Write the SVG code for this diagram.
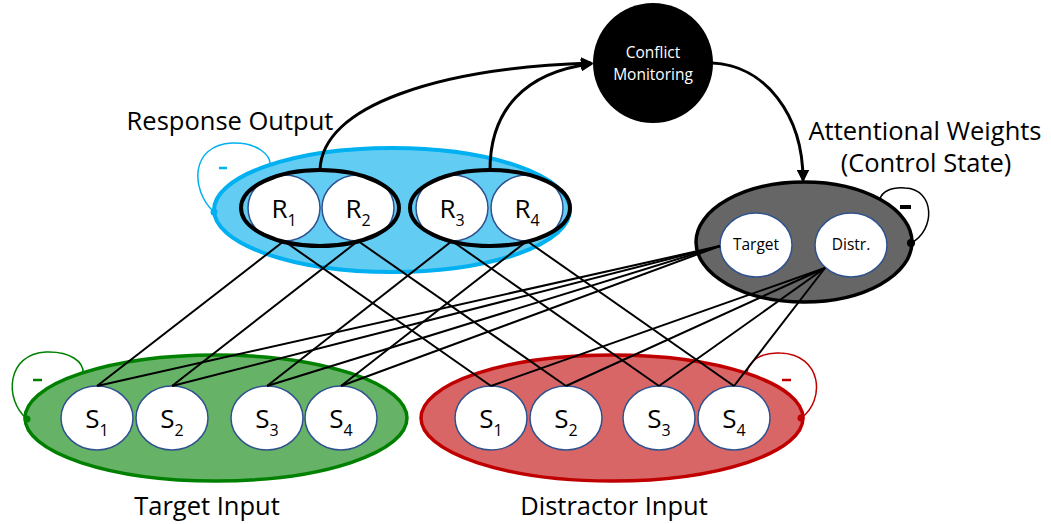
<svg xmlns="http://www.w3.org/2000/svg" width="1051" height="524" viewBox="0 0 1051 524">
  <style>
    .title { font-family: "Open Sans", "Liberation Sans", sans-serif; font-size: 25.5px; fill: #000; text-anchor: middle; }
    .unit { fill: #fff; stroke: #2F528F; stroke-width: 1.5; }
    .lbl { font-family: "Open Sans", "Liberation Sans", sans-serif; font-size: 26px; fill: #000; text-anchor: middle; }
    .sub { font-size: 16px; }
    .small { font-family: "Open Sans", "Liberation Sans", sans-serif; font-size: 15.5px; text-anchor: middle; }
    .wire { stroke: #000; stroke-width: 2; fill: none; }
    .arrow { stroke: #000; stroke-width: 3; fill: none; marker-end: url(#head); }
  </style>
  <defs>
    <marker id="head" viewBox="0 0 10 10" refX="8" refY="5" markerWidth="4.2" markerHeight="4.2" orient="auto" markerUnits="strokeWidth">
      <path d="M0,0 L10,5 L0,10 Z" fill="#000"/>
    </marker>
  </defs>

  <rect width="1051" height="524" fill="#fff"/>

  <!-- Response output layer -->
  <g id="response-output">
    <ellipse cx="392" cy="210" rx="178" ry="62" fill="#63CCF3" stroke="#00B0F0" stroke-width="4"/>
    <path d="M214,212 C190,190 190,145 232,143 C258,142 271,156 270,165" fill="none" stroke="#00B0F0" stroke-width="1.5"/>
    <circle cx="214" cy="212" r="3.5" fill="#00B0F0"/>
    <line x1="219" y1="168" x2="227" y2="168" stroke="#00B0F0" stroke-width="2.5"/>
    <text class="title" x="230" y="130">Response Output</text>
    <g id="r1">
      <ellipse class="unit" cx="284" cy="208" rx="36" ry="33"/>
      <text class="lbl" x="284" y="218">R<tspan class="sub" dy="8">1</tspan></text>
    </g>
    <g id="r2">
      <ellipse class="unit" cx="358" cy="208" rx="36" ry="33"/>
      <text class="lbl" x="358" y="218">R<tspan class="sub" dy="8">2</tspan></text>
    </g>
    <g id="r3">
      <ellipse class="unit" cx="452" cy="208" rx="36" ry="33"/>
      <text class="lbl" x="452" y="218">R<tspan class="sub" dy="8">3</tspan></text>
    </g>
    <g id="r4">
      <ellipse class="unit" cx="527" cy="208" rx="36" ry="33"/>
      <text class="lbl" x="527" y="218">R<tspan class="sub" dy="8">4</tspan></text>
    </g>
    <ellipse cx="320" cy="208" rx="79" ry="38" fill="none" stroke="#000" stroke-width="4"/>
    <ellipse cx="490" cy="208" rx="80" ry="38" fill="none" stroke="#000" stroke-width="4"/>
  </g>

  <!-- Conflict monitoring unit -->
  <g id="conflict-monitoring">
    <circle cx="653" cy="63" r="60" fill="#000"/>
    <text class="small" x="653" y="58" fill="#fff" font-size="16px">Conflict</text>
    <text class="small" x="653" y="80" fill="#fff" font-size="16px">Monitoring</text>
  </g>

  <!-- Attentional weights (control state) -->
  <g id="attentional-weights">
    <text class="title" x="925" y="140">Attentional Weights</text>
    <text class="title" x="926" y="172">(Control State)</text>
    <ellipse cx="804" cy="242" rx="108" ry="60" fill="#666666" stroke="#000" stroke-width="3.5"/>
    <path d="M911,243 C936,230 935,189 905,188 C890,187 882,192 880,199" fill="none" stroke="#000" stroke-width="1.5"/>
    <circle cx="911" cy="243" r="4" fill="#000"/>
    <line x1="900" y1="207" x2="911" y2="207" stroke="#000" stroke-width="4"/>
    <g id="w-target">
      <ellipse class="unit" cx="756" cy="245" rx="36" ry="32"/>
      <text class="small" x="756" y="250">Target</text>
    </g>
    <g id="w-distr">
      <ellipse class="unit" cx="851" cy="245" rx="36" ry="32"/>
      <text class="small" x="851" y="250">Distr.</text>
    </g>
  </g>

  <!-- Target input layer -->
  <g id="target-input">
    <ellipse cx="216" cy="418" rx="191" ry="63" fill="#66B266" stroke="#008000" stroke-width="3.5"/>
    <path d="M27,419 C4,400 6,354 46,352 C70,351 84,362 83,373" fill="none" stroke="#008000" stroke-width="1.5"/>
    <circle cx="27" cy="419" r="3.5" fill="#008000"/>
    <line x1="33" y1="380" x2="42" y2="380" stroke="#008000" stroke-width="2.5"/>
    <text class="title" x="207" y="515">Target Input</text>
    <g id="t-s1">
      <ellipse class="unit" cx="97" cy="418" rx="36" ry="32"/>
      <text class="lbl" x="97" y="428">S<tspan class="sub" dy="8">1</tspan></text>
    </g>
    <g id="t-s2">
      <ellipse class="unit" cx="172" cy="418" rx="36" ry="32"/>
      <text class="lbl" x="172" y="428">S<tspan class="sub" dy="8">2</tspan></text>
    </g>
    <g id="t-s3">
      <ellipse class="unit" cx="267" cy="418" rx="36" ry="32"/>
      <text class="lbl" x="267" y="428">S<tspan class="sub" dy="8">3</tspan></text>
    </g>
    <g id="t-s4">
      <ellipse class="unit" cx="341" cy="418" rx="36" ry="32"/>
      <text class="lbl" x="341" y="428">S<tspan class="sub" dy="8">4</tspan></text>
    </g>
  </g>

  <!-- Distractor input layer -->
  <g id="distractor-input">
    <ellipse cx="612" cy="418" rx="191" ry="63" fill="#D96666" stroke="#C00000" stroke-width="3.5"/>
    <path d="M801,418 C826,400 822,354 780,353 C760,352 748,362 747,373" fill="none" stroke="#C00000" stroke-width="1.5"/>
    <circle cx="801" cy="418" r="3.5" fill="#C00000"/>
    <line x1="782" y1="380" x2="791" y2="380" stroke="#C00000" stroke-width="2.5"/>
    <text class="title" x="614" y="515">Distractor Input</text>
    <g id="d-s1">
      <ellipse class="unit" cx="491" cy="418" rx="36" ry="32"/>
      <text class="lbl" x="491" y="428">S<tspan class="sub" dy="8">1</tspan></text>
    </g>
    <g id="d-s2">
      <ellipse class="unit" cx="566" cy="418" rx="36" ry="32"/>
      <text class="lbl" x="566" y="428">S<tspan class="sub" dy="8">2</tspan></text>
    </g>
    <g id="d-s3">
      <ellipse class="unit" cx="659" cy="418" rx="36" ry="32"/>
      <text class="lbl" x="659" y="428">S<tspan class="sub" dy="8">3</tspan></text>
    </g>
    <g id="d-s4">
      <ellipse class="unit" cx="734" cy="418" rx="36" ry="32"/>
      <text class="lbl" x="734" y="428">S<tspan class="sub" dy="8">4</tspan></text>
    </g>
  </g>

  <!-- Connections -->
  <g id="connectors">
    <!-- response units to stimulus units -->
    <line class="wire" x1="284" y1="241" x2="97" y2="386"/>
    <line class="wire" x1="284" y1="241" x2="491" y2="386"/>
    <line class="wire" x1="358" y1="241" x2="172" y2="386"/>
    <line class="wire" x1="358" y1="241" x2="566" y2="386"/>
    <line class="wire" x1="452" y1="241" x2="267" y2="386"/>
    <line class="wire" x1="452" y1="241" x2="659" y2="386"/>
    <line class="wire" x1="527" y1="241" x2="341" y2="386"/>
    <line class="wire" x1="527" y1="241" x2="734" y2="386"/>
    <!-- target weight to target inputs -->
    <line class="wire" x1="720" y1="246" x2="97" y2="386"/>
    <line class="wire" x1="720" y1="246" x2="172" y2="386"/>
    <line class="wire" x1="720" y1="246" x2="267" y2="386"/>
    <line class="wire" x1="720" y1="246" x2="341" y2="386"/>
    <!-- distractor weight to distractor inputs -->
    <line class="wire" x1="825" y1="268" x2="491" y2="386"/>
    <line class="wire" x1="825" y1="268" x2="566" y2="386"/>
    <line class="wire" x1="825" y1="268" x2="659" y2="386"/>
    <line class="wire" x1="825" y1="268" x2="734" y2="386"/>
    <!-- response pools to conflict monitoring -->
    <path class="arrow" d="M320,170 C322,105 440,68 591,63"/>
    <path class="arrow" d="M490,170 C490,110 525,72 591,64"/>
    <!-- conflict monitoring to attentional weights -->
    <path class="arrow" d="M712,63 C765,65 803,115 803,180"/>
  </g>
</svg>
